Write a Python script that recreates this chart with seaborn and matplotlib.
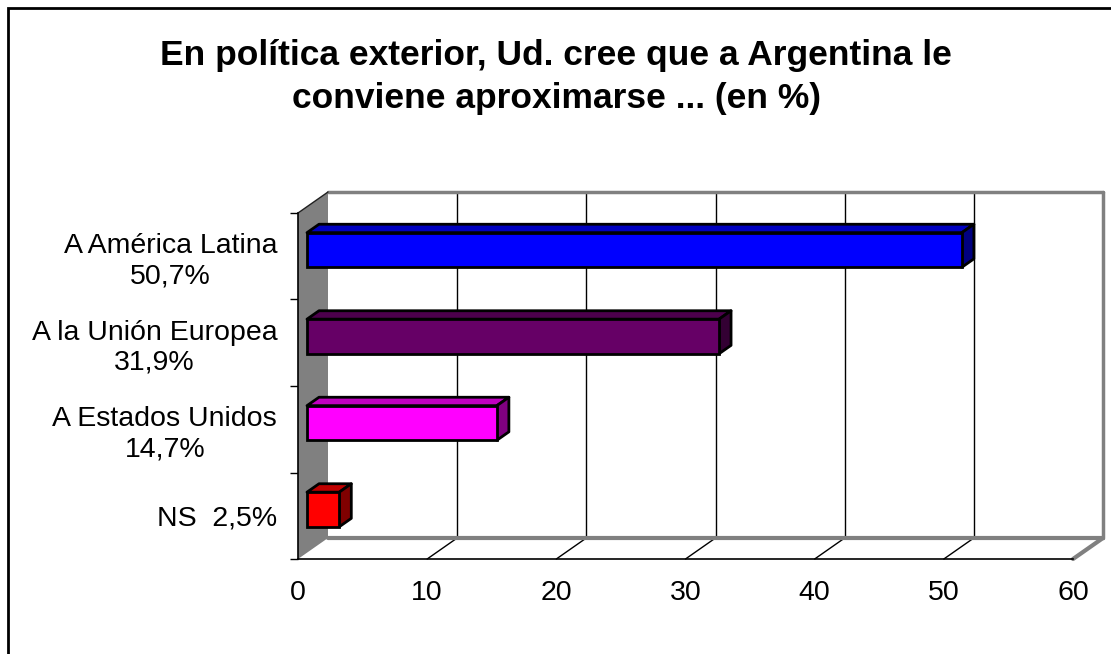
import matplotlib
matplotlib.use("Agg")
import matplotlib.pyplot as plt
import seaborn as sns
from matplotlib.patches import Polygon, Rectangle
from matplotlib.lines import Line2D

# ---- data ----
categories = ["A América Latina\n50,7%", "A la Unión Europea\n31,9%",
              "A Estados Unidos\n14,7%", "NS  2,5%"]
values = [50.7, 31.9, 14.7, 2.5]
title = "En política exterior, Ud. cree que a Argentina le\nconviene aproximarse ... (en %)"
x_ticks = [0, 10, 20, 30, 40, 50, 60]

# ---- styles ----
front_colors = ["#0000FF", "#660066", "#FF00FF", "#FF0000"]
top_colors = ["#0000C0", "#4D004D", "#C000C0", "#C00000"]
side_colors = ["#000080", "#330033", "#800080", "#800000"]

sns.set_theme(style="white")
plt.rcParams["font.family"] = ["Liberation Sans", "DejaVu Sans"]

W, H = 1111, 654
fig = plt.figure(figsize=(W / 100, H / 100), dpi=100)
fig.patch.set_facecolor("white")

# axes = front plane of 3D box
L, R, T, B = 298, 1073, 213, 559
ax = fig.add_axes([L / W, (H - B) / H, (R - L) / W, (B - T) / H])
ax.set_facecolor("none")

sns.barplot(x=values, y=categories, hue=categories, palette=front_colors,
            orient="h", width=0.4, edgecolor="black", linewidth=2,
            saturation=1, legend=False, ax=ax, zorder=5)

ax.set_xlim(0, 60)
ax.set_ylim(3.5, -0.5)

px_x = (R - L) / 60.0
px_y = (B - T) / 4.0
DX = 30 / px_x
DY = 21 / px_y


def proj(x, y, d):
    return (x + d * DX, y - d * DY)


def poly(pts, **kw):
    p = Polygon(pts, closed=True, clip_on=False, **kw)
    ax.add_patch(p)
    return p


def line(p0, p1, **kw):
    ln = Line2D([p0[0], p1[0]], [p0[1], p1[1]], clip_on=False, **kw)
    ax.add_line(ln)


bars = [p for p in ax.patches if isinstance(p, Rectangle)]

y0, y1 = -0.5, 3.5
# back wall
poly([proj(0, y0, 1), proj(60, y0, 1), proj(60, y1, 1), proj(0, y1, 1)],
     facecolor="white", edgecolor="none", zorder=0)
# floor
poly([proj(0, y1, 0), proj(60, y1, 0), proj(60, y1, 1), proj(0, y1, 1)],
     facecolor="white", edgecolor="none", zorder=0)
# grid
for v in x_ticks[1:-1]:
    line(proj(v, y0, 1), proj(v, y1, 1), color="black", lw=1, zorder=1)
    line(proj(v, y1, 0), proj(v, y1, 1), color="black", lw=1, zorder=1)
# back wall and floor edges
line(proj(0, y0, 1), proj(60, y0, 1), color="#808080", lw=2.5, zorder=2)
line(proj(60, y0, 1), proj(60, y1, 1), color="#808080", lw=2.5, zorder=2)
line(proj(0, y1, 1), proj(60, y1, 1), color="#808080", lw=3, zorder=2)
line(proj(60, y1, 0), proj(60, y1, 1), color="#808080", lw=3, zorder=2)
# left wall
poly([proj(0, y0, 0), proj(0, y0, 1), proj(0, y1, 1), proj(0, y1, 0)],
     facecolor="#808080", edgecolor="none", zorder=2)
line(proj(0, y0, 0), proj(0, y0, 1), color="#202020", lw=1, zorder=3)

# 3D bars
d0, d1 = 0.3, 0.7
for i, patch in enumerate(bars):
    x, y, w, h = patch.get_x(), patch.get_y(), patch.get_width(), patch.get_height()
    fx, fy = proj(x, y, d0)
    patch.set_x(fx)
    patch.set_y(fy)
    patch.set_clip_on(False)
    patch.set_zorder(6)
    poly([proj(x, y, d0), proj(x + w, y, d0), proj(x + w, y, d1), proj(x, y, d1)],
         facecolor=top_colors[i], edgecolor="black", lw=2, joinstyle="round", zorder=5)
    poly([proj(x + w, y, d0), proj(x + w, y + h, d0), proj(x + w, y + h, d1),
          proj(x + w, y, d1)],
         facecolor=side_colors[i], edgecolor="black", lw=2, joinstyle="round", zorder=5)

# spines / ticks
for s in ["top", "right"]:
    ax.spines[s].set_visible(False)
for s in ["left", "bottom"]:
    ax.spines[s].set_visible(True)
    ax.spines[s].set_color("black")
    ax.spines[s].set_linewidth(1.2)
    ax.spines[s].set_zorder(4)

ax.set_xticks(x_ticks)
ax.set_xticklabels([str(t) for t in x_ticks])
ax.tick_params(axis="x", which="major", direction="out", length=6, width=1,
               color="black", labelsize=20.5, pad=9, labelcolor="black")
ax.set_yticks([0, 1, 2, 3])
ax.set_yticklabels(categories)
ax.set_yticks([-0.5, 0.5, 1.5, 2.5, 3.5], minor=True)
ax.tick_params(axis="y", which="major", length=0, labelsize=20.5, pad=15,
               labelcolor="black")
ax.tick_params(axis="y", which="minor", direction="out", length=6, width=1,
               color="black", left=True)
for lbl in ax.get_yticklabels():
    lbl.set_multialignment("center")
ax.set_xlabel("")
ax.set_ylabel("")
ax.grid(False)

# title
fig.text(556 / W, 1 - 77 / H, title, ha="center", va="center",
         fontsize=25.5, fontweight="bold", linespacing=1.35, color="black")

# chart border
fig.add_artist(Rectangle((7.5 / W, -0.1), 1.2, 1 - 7.5 / H + 0.1,
                         transform=fig.transFigure, fill=False,
                         edgecolor="black", lw=2, clip_on=False))

fig.savefig("out.png", dpi=100, facecolor="white")
